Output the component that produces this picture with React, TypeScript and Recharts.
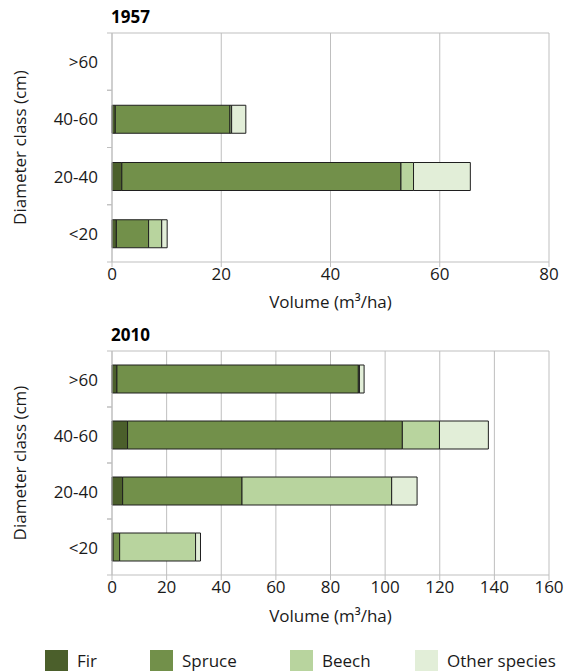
import { BarChart, Bar, XAxis, YAxis, CartesianGrid, Label } from "recharts";

const classes = [">60", "40-60", "20-40", "<20"];
const species = ["Fir", "Spruce", "Beech", "Other species"];
const colors = ["#4b5f2b", "#72904a", "#b8d49e", "#e2eed8"];

// volume per diameter class (m³/ha), listed top to bottom
const fir1957 = [0, 0.6, 1.8, 0.8];
const spruce1957 = [0, 21.0, 51.1, 5.9];
const beech1957 = [0, 0.3, 2.3, 2.4];
const other1957 = [0, 2.6, 10.4, 1.0];

const fir2010 = [1.8, 5.7, 3.9, 0.4];
const spruce2010 = [88.4, 100.6, 43.7, 2.4];
const beech2010 = [0.4, 13.6, 54.8, 27.8];
const other2010 = [1.7, 17.9, 9.3, 1.8];

const ticks1957 = [0, 20, 40, 60, 80];
const ticks2010 = [0, 20, 40, 60, 80, 100, 120, 140, 160];

const FONT = "'Open Sans', sans-serif";
const FS = 17;
const GRID = "#bfbfbf";
const TEXT = "#1a1a1a";
const keys = ["fir", "spruce", "beech", "other"];

const toRows = (series: number[][]) =>
  classes.map((c, i) => ({
    cls: c,
    fir: series[0][i],
    spruce: series[1][i],
    beech: series[2][i],
    other: series[3][i],
  }));

const data1957 = toRows([fir1957, spruce1957, beech1957, other1957]);
const data2010 = toRows([fir2010, spruce2010, beech2010, other2010]);

type PanelProps = {
  title: string;
  data: any[];
  ticks: number[];
  top: number;
  height: number;
  marginTop: number;
  xAxisHeight: number;
  titleOffset: number;
};

const Panel = ({ title, data, ticks, top, height, marginTop, xAxisHeight, titleOffset }: PanelProps) => {
  const plotHeight = height - marginTop - xAxisHeight;
  const half = plotHeight / classes.length / 2;

  // category label plus small marks on the band edges
  const CategoryTick = (props: any) => {
    const { x, y, payload } = props;
    const axisX = x + 14;
    return (
      <g>
        <line x1={axisX - 5} x2={axisX} y1={y - half} y2={y - half} stroke={GRID} />
        <line x1={axisX - 5} x2={axisX} y1={y + half} y2={y + half} stroke={GRID} />
        <text
          x={x}
          y={y}
          textAnchor="end"
          dominantBaseline="central"
          fontSize={FS}
          fontFamily={FONT}
          fill={TEXT}
        >
          {payload.value}
        </text>
      </g>
    );
  };

  return (
    <div style={{ position: "absolute", left: 0, top }}>
      <div
        style={{
          position: "absolute",
          left: 111,
          top: marginTop - 28,
          fontFamily: FONT,
          fontWeight: 700,
          fontSize: FS,
          color: "#000",
        }}
      >
        {title}
      </div>
      <BarChart
        width={565}
        height={height}
        data={data}
        layout="vertical"
        margin={{ top: marginTop, right: 16, left: 0, bottom: 0 }}
        barSize={28}
      >
        <CartesianGrid
          stroke={GRID}
          vertical
          horizontal
          horizontalCoordinatesGenerator={({ offset }: any) => [offset.top]}
        />
        <XAxis
          type="number"
          domain={[0, ticks[ticks.length - 1]]}
          ticks={ticks}
          interval={0}
          height={xAxisHeight}
          axisLine={{ stroke: GRID }}
          tickLine={{ stroke: GRID }}
          tickSize={5}
          tickMargin={1}
          tick={{ fontSize: FS, fontFamily: FONT, fill: TEXT }}
        >
          <Label
            value="Volume (m³/ha)"
            position="insideBottom"
            offset={titleOffset}
            style={{ fontSize: FS, fontFamily: FONT, fill: TEXT }}
          />
        </XAxis>
        <YAxis
          type="category"
          dataKey="cls"
          width={112}
          axisLine={{ stroke: GRID }}
          tickLine={false}
          tickSize={6}
          tickMargin={8}
          tick={<CategoryTick />}
        >
          <Label
            value="Diameter class (cm)"
            angle={-90}
            position="insideLeft"
            offset={20}
            style={{ fontSize: FS, fontFamily: FONT, fill: TEXT, textAnchor: "middle" }}
          />
        </YAxis>
        {keys.map((k, i) => (
          <Bar
            key={k}
            dataKey={k}
            name={species[i]}
            stackId="v"
            fill={colors[i]}
            stroke="#1f1f1f"
            strokeWidth={1}
            isAnimationActive={false}
          />
        ))}
      </BarChart>
    </div>
  );
};

const legendLeft = [45, 150, 290, 415];

export default function App() {
  return (
    <div
      style={{
        position: "absolute",
        left: 0,
        top: 0,
        width: 565,
        height: 671,
        background: "#fff",
        fontFamily: FONT,
      }}
    >
      <Panel
        title="1957"
        data={data1957}
        ticks={ticks1957}
        top={0}
        height={318}
        marginTop={33}
        xAxisHeight={56}
        titleOffset={10}
      />
      <Panel
        title="2010"
        data={data2010}
        ticks={ticks2010}
        top={320}
        height={310}
        marginTop={31}
        xAxisHeight={55}
        titleOffset={8}
      />
      {species.map((s, i) => (
        <div
          key={s}
          style={{
            position: "absolute",
            left: legendLeft[i],
            top: 650,
            height: 21,
            display: "flex",
            alignItems: "center",
            fontSize: FS,
            color: TEXT,
            whiteSpace: "nowrap",
          }}
        >
          <span style={{ display: "inline-block", width: 23, height: 21, background: colors[i], marginRight: 9 }} />
          {s}
        </div>
      ))}
    </div>
  );
}
